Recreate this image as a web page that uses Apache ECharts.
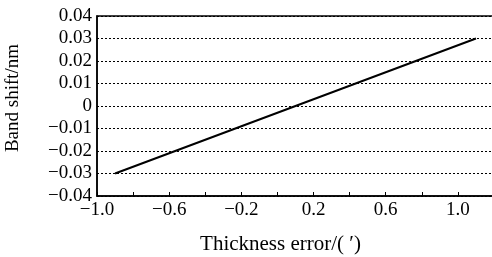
<!DOCTYPE html>
<html>
<head>
    <meta charset="utf-8">
    <title>Band shift</title>
    <script src="https://cdn.jsdelivr.net/npm/echarts@6/dist/echarts.min.js"></script>
    <style>
        html, body { margin: 0; padding: 0; background: #fff; }
    </style>
</head>
<body>
<div id="main" style="width: 492px;height:257px;"></div>
<script type="text/javascript">
    // thickness error vs band shift
    var thickness = [-0.9, 0.1, 1.1];
    var shift = [-0.03, 0, 0.03];
    var xLabels = ['\u22121.0', '\u22120.6', '\u22120.2', '0.2', '0.6', '1.0'];

    var font = 'Liberation Serif';
    var myChart = echarts.init(document.getElementById('main'));

    var pts = [];
    for (var i = 0; i < thickness.length; i++) {
        pts.push([thickness[i], shift[i]]);
    }

    option = {
        animation: false,
        grid: {
            left: 97, top: 16, width: 397, height: 180,
            outerBoundsMode: 'none',
            show: true, borderColor: '#000', borderWidth: 1.5
        },
        xAxis: {
            type: 'value',
            min: -1, max: 1.2, interval: 0.2,
            name: 'Thickness error/( \u2032)',
            nameLocation: 'middle',
            nameGap: 38,
            nameTextStyle: { fontFamily: font, fontSize: 21, color: '#000', padding: [0, 30, 0, 0] },
            axisLine: { onZero: false, lineStyle: { color: '#000', width: 1.5 } },
            axisTick: { inside: true, length: 4, lineStyle: { color: '#000', width: 1 } },
            axisLabel: {
                fontFamily: font, fontSize: 19, color: '#000', margin: 5,
                formatter: function (v, idx) {
                    return idx % 2 === 0 ? (xLabels[idx / 2] || '') : '';
                }
            },
            splitLine: { show: false }
        },
        yAxis: {
            type: 'value',
            min: -0.04, max: 0.04, interval: 0.01,
            name: 'Band shift/nm',
            nameLocation: 'middle',
            nameGap: 74,
            nameTextStyle: { fontFamily: font, fontSize: 19, color: '#000', padding: [0, 0, 0, 16] },
            axisLine: { show: true, onZero: false, lineStyle: { color: '#000', width: 1.5 } },
            axisTick: { show: false },
            axisLabel: {
                fontFamily: font, fontSize: 19, color: '#000', margin: 5,
                formatter: function (v) {
                    var r = Math.round(v * 100);
                    if (r === 0) return '0';
                    return (r < 0 ? '\u2212' : '') + (Math.abs(r) / 100).toFixed(2);
                }
            },
            splitLine: { show: true, lineStyle: { color: '#000', type: [2, 2], width: 1 } }
        },
        series: [{
            type: 'line',
            data: pts,
            symbol: 'none',
            lineStyle: { color: '#000', width: 2 }
        }]
    };

    myChart.setOption(option);
</script>
</body>
</html>
